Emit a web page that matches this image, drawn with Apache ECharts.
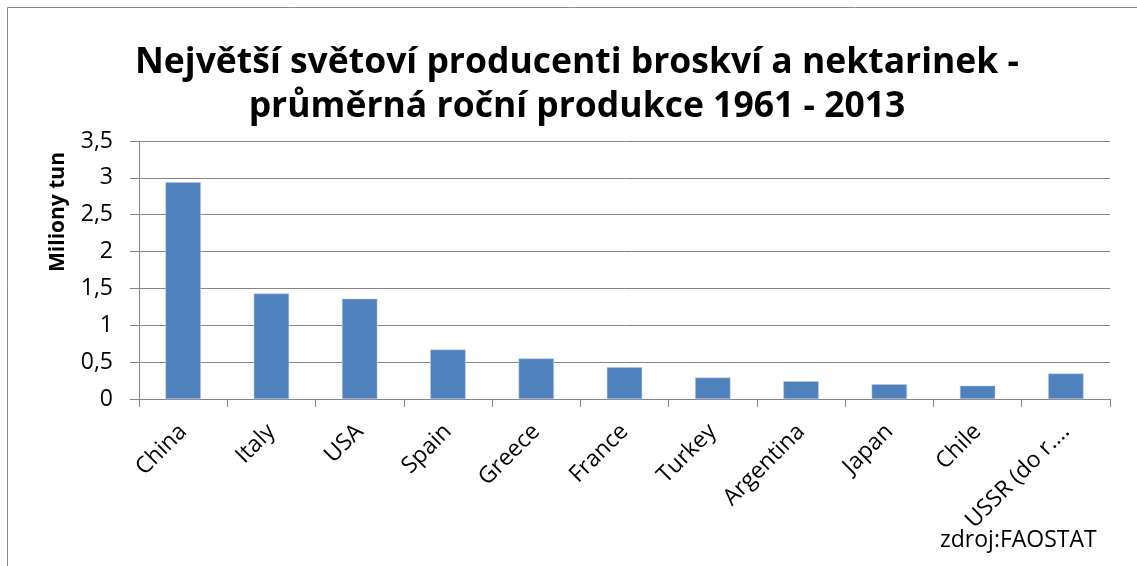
<!DOCTYPE html>
<html>
<head>
<meta charset="utf-8">
<script src="https://cdn.jsdelivr.net/npm/echarts@6/dist/echarts.min.js"></script>
<style>
  html, body { margin: 0; padding: 0; background: #fff; }
  #chart { width: 1137px; height: 566px; }
</style>
</head>
<body>
<div id="chart"></div>
<script>
// zeme a prumerna rocni produkce (mil. tun)
var countries = ['China', 'Italy', 'USA', 'Spain', 'Greece', 'France', 'Turkey', 'Argentina', 'Japan', 'Chile', 'USSR (do r….'];
var production = [2.94, 1.43, 1.36, 0.67, 0.55, 0.43, 0.29, 0.24, 0.2, 0.18, 0.345];

var font = '"Open Sans", "DejaVu Sans", sans-serif';
var chart = echarts.init(document.getElementById('chart'));

chart.setOption({
  animation: false,
  title: {
    text: 'Největší světoví producenti broskví a nektarinek -\nprůměrná roční produkce 1961 - 2013',
    left: 572,
    top: 36,
    textAlign: 'center',
    textStyle: { fontFamily: font, fontSize: 35.5, fontWeight: 'bold', color: '#000', lineHeight: 44 }
  },
  graphic: [
    {
      type: 'rect',
      shape: { x: 7.5, y: 7.5, width: 1140, height: 570 },
      style: { fill: 'none', stroke: '#8c8c8c', lineWidth: 1 },
      silent: true
    },
    {
      type: 'text',
      x: 58,
      y: 212,
      rotation: Math.PI / 2,
      style: {
        text: 'Miliony tun',
        font: 'bold 21px ' + font,
        fill: '#000',
        align: 'center',
        verticalAlign: 'middle'
      }
    },
    {
      type: 'text',
      left: 940,
      top: 529,
      style: { text: 'zdroj:FAOSTAT', font: '23px ' + font, fill: '#000' }
    }
  ],
  grid: { left: 139, right: 27, top: 141, bottom: 167 },
  xAxis: {
    type: 'category',
    data: countries,
    axisLine: { lineStyle: { color: '#868686', width: 1 } },
    axisTick: { show: true, length: 8, lineStyle: { color: '#868686' } },
    axisLabel: {
      rotate: 45,
      margin: 29,
      interval: 0,
      color: '#000',
      fontSize: 23,
      fontFamily: font
    }
  },
  yAxis: {
    type: 'value',
    min: 0,
    max: 3.5,
    interval: 0.5,
    axisLine: { show: true, lineStyle: { color: '#868686' } },
    axisTick: { show: true, length: 9, lineStyle: { color: '#868686' } },
    splitLine: { lineStyle: { color: '#868686', width: 1 } },
    axisLabel: {
      color: '#000',
      fontSize: 23,
      fontFamily: font,
      margin: 26,
      formatter: function (v) { return String(v).replace('.', ','); }
    }
  },
  series: [{
    type: 'bar',
    data: production,
    barCategoryGap: '60%',
    itemStyle: { color: '#4f81bd', borderColor: '#b9cde5', borderWidth: 0.5 }
  }]
});
</script>
</body>
</html>
